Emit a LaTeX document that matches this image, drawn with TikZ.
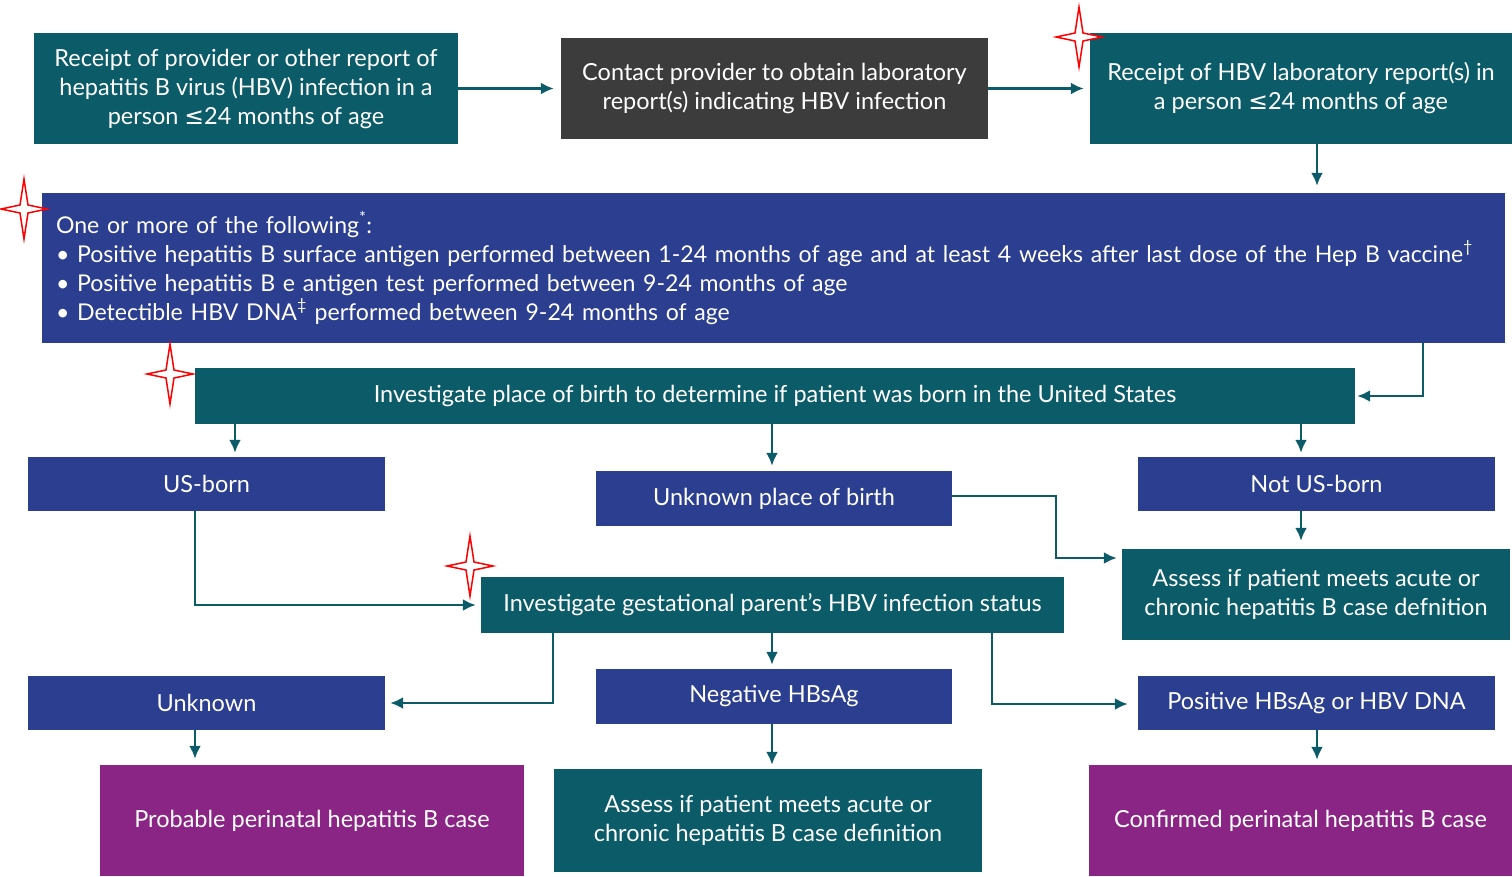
\documentclass[tikz,border=0pt]{standalone}
\usepackage{fontspec}
\setmainfont{Lato}
\newfontfamily\symfont{DejaVu Sans}
\usetikzlibrary{arrows.meta}
\definecolor{hbvteal}{HTML}{0B5C68}
\definecolor{hbvblue}{HTML}{2B3E8F}
\definecolor{hbvgray}{HTML}{3C3C3C}
\definecolor{hbvpurple}{HTML}{8B2585}
\newcommand{\leqsign}{{\symfont ≤}}
\begin{document}
\begin{tikzpicture}[x=1pt,y=-1pt]
			\tikzset{box/.style = {text=white, inner sep=0pt, align=center, font=\fontsize{23.5}{29}\selectfont}}
			\tikzset{tealbox/.style = {box, fill=hbvteal}}
			\tikzset{bluebox/.style = {box, fill=hbvblue}}
			\tikzset{graybox/.style = {box, fill=hbvgray}}
			\tikzset{casebox/.style = {box, fill=hbvpurple}}
			\tikzset{edge/.style = {-{Latex[length=13pt,width=12pt]}, line width=2.5pt, draw=hbvteal}}
			\tikzset{starline/.style = {draw=red, line width=1.5pt, fill=white, line join=miter}}
			\useasboundingbox (0,0) rectangle (1512,876);
			% Reports
			\node[tealbox, minimum width=424, minimum height=111] (provrep) at (246,88.5) {Receipt of provider or other report of\\hepatitis B virus (HBV) infection in a\\person \leqsign24 months of age};
			\node[graybox, minimum width=427, minimum height=101] (labreq) at (774.5,88.5) {Contact provider to obtain laboratory\\report(s) indicating HBV infection};
			\node[tealbox, minimum width=422, minimum height=111] (labrep) at (1301,88.5) {Receipt of HBV laboratory report(s) in\\a person \leqsign24 months of age};
			% Criteria
			\node[bluebox, minimum width=1463, minimum height=150, text width=1435, align=left, font=\fontsize{23.1}{29}\selectfont] (crit) at (773.5,268) {One or more of the following\textsuperscript{*}:\\
				\textbullet\ Positive hepatitis B surface antigen performed between 1-24 months of age and at least 4 weeks after last dose of the Hep B vaccine\textsuperscript{\textdagger}\\
				\textbullet\ Positive hepatitis B e antigen test performed between 9-24 months of age\\
				\textbullet\ Detectible HBV DNA\textsuperscript{\textdaggerdbl} performed between 9-24 months of age};
			% Place of birth
			\node[tealbox, minimum width=1160, minimum height=56] (birth) at (775,396) {Investigate place of birth to determine if patient was born in the United States};
			\node[bluebox, minimum width=357, minimum height=54] (usborn) at (206.5,484) {US-born};
			\node[bluebox, minimum width=356, minimum height=55] (unkbirth) at (774,498.5) {Unknown place of birth};
			\node[bluebox, minimum width=357, minimum height=54] (notus) at (1316.5,484) {Not US-born};
			\node[tealbox, minimum width=388, minimum height=91] (assessR) at (1316,594.5) {Assess if patient meets acute or\\chronic hepatitis B case defnition};
			% Gestational parent
			\node[tealbox, minimum width=583, minimum height=56] (gest) at (772.5,605) {Investigate gestational parent’s HBV infection status};
			\node[bluebox, minimum width=357, minimum height=54] (unknown) at (206.5,703) {Unknown};
			\node[bluebox, minimum width=356, minimum height=55] (neg) at (774,696.5) {Negative HBsAg};
			\node[bluebox, minimum width=357, minimum height=54] (pos) at (1316.5,703) {Positive HBsAg or HBV DNA};
			% Outcomes
			\node[casebox, minimum width=424, minimum height=111] (probable) at (312,820.5) {Probable perinatal hepatitis B case};
			\node[tealbox, minimum width=428, minimum height=103] (assessM) at (768,820.5) {Assess if patient meets acute or\\chronic hepatitis B case definition};
			\node[casebox, minimum width=423, minimum height=111] (confirmed) at (1300.5,820.5) {Confirmed perinatal hepatitis B case};
			% Helper columns
			\coordinate (c195) at (195,0);
			\coordinate (c235) at (235,0);
			\coordinate (c772) at (772,0);
			\coordinate (c1301) at (1301,0);
			\coordinate (c1317) at (1317,0);
			% Connectors
			\draw[edge, shorten >=7pt] (provrep) -- (labreq);
			\draw[edge, shorten >=6pt] (labreq) -- (labrep);
			\draw[edge, shorten >=7pt] (labrep.south -| c1317) -- (crit.north -| c1317);
			\draw[edge, shorten >=2pt] ([xshift=649.5pt]crit.south) |- (birth.east);
			\draw[edge, shorten >=4pt] (birth.south -| c235) -- (usborn.north -| c235);
			\draw[edge, shorten >=5pt] (birth.south -| c772) -- (unkbirth.north -| c772);
			\draw[edge, shorten >=4pt] (birth.south -| c1301) -- (notus.north -| c1301);
			\draw[edge, shorten >=8pt] (notus.south -| c1301) -- (assessR.north -| c1301);
			\draw[edge, shorten >=5pt] ([yshift=2.5pt]unkbirth.east) -- ++(104,0) |- ([yshift=36.5pt]assessR.west);
			\draw[edge, shorten >=5pt] (usborn.south -| c195) |- (gest.west);
			\draw[edge, shorten >=5pt] ([xshift=-219.5pt]gest.south) |- (unknown.east);
			\draw[edge, shorten >=4pt] (gest.south -| c772) -- (neg.north -| c772);
			\draw[edge, shorten >=10pt] ([xshift=219.5pt]gest.south) |- ([yshift=-1pt]pos.west);
			\draw[edge, shorten >=6pt] (unknown.south -| c195) -- (probable.north -| c195);
			\draw[edge, shorten >=4pt] (neg.south -| c772) -- (assessM.north -| c772);
			\draw[edge, shorten >=5pt] (pos.south -| c1317) -- (confirmed.north -| c1317);
			% Red marks
			\foreach \sx/\sy in {1079/37, 24/209, 170/374, 470/566}
				\draw[starline, shift={(\sx,\sy)}] (0,-30) -- (4,-4) -- (23,0) -- (4,4) -- (0,30) -- (-4,4) -- (-23,0) -- (-4,-4) -- cycle;
		\end{tikzpicture}
\end{document}
